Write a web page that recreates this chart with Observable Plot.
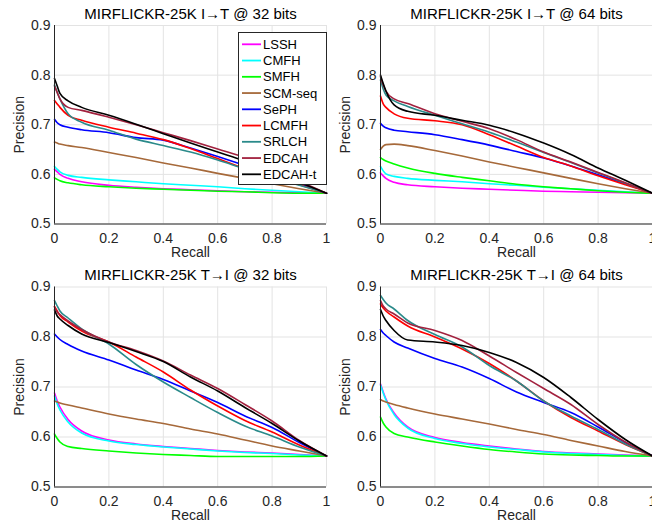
<!DOCTYPE html>
<html><head><meta charset="utf-8">
<script src="https://cdn.jsdelivr.net/npm/d3@7"></script>
<script src="https://cdn.jsdelivr.net/npm/@observablehq/plot@0.6"></script>
<style>
body{margin:0;background:#fff;}
#root{position:relative;width:652px;height:528px;overflow:hidden;background:#fff;font-family:"Liberation Sans",Arial,sans-serif;}
.panel{position:absolute;}
.panel svg{overflow:visible;}
#legend{position:absolute;left:238px;top:32px;}
</style></head><body><div id="root"></div>
<script>
const methods = ["LSSH","CMFH","SMFH","SCM-seq","SePH","LCMFH","SRLCH","EDCAH","EDCAH-t"];
const colors = ["#ff00ff","#00ffff","#00ff00","#a6693a","#0000ff","#ff0000","#2a8a8a","#a2213e","#000000"];
const recall = [0, 0.01, 0.02, 0.05, 0.1, 0.2, 0.3, 0.4, 0.5, 0.6, 0.7, 0.8, 0.9, 1];
const xTicks = [0, 0.2, 0.4, 0.6, 0.8, 1];
const yTicks = [0.5, 0.6, 0.7, 0.8, 0.9];
const titles = ["MIRFLICKR-25K I\u2192T @ 32 bits","MIRFLICKR-25K I\u2192T @ 64 bits","MIRFLICKR-25K T\u2192I @ 32 bits","MIRFLICKR-25K T\u2192I @ 64 bits"];

// precision values, one row per method (order of `methods`), one column per `recall` point
const prI2T32 = [
  [0.610,0.605,0.600,0.592,0.585,0.578,0.574,0.571,0.569,0.567,0.565,0.564,0.563,0.562],
  [0.616,0.610,0.605,0.598,0.594,0.589,0.585,0.581,0.578,0.575,0.571,0.568,0.565,0.562],
  [0.593,0.590,0.587,0.583,0.579,0.575,0.572,0.570,0.568,0.566,0.565,0.563,0.562,0.562],
  [0.665,0.663,0.661,0.658,0.654,0.644,0.634,0.623,0.613,0.602,0.592,0.581,0.571,0.562],
  [0.711,0.704,0.700,0.695,0.690,0.684,0.674,0.669,0.653,0.636,0.618,0.600,0.581,0.562],
  [0.749,0.742,0.735,0.719,0.709,0.695,0.683,0.670,0.652,0.632,0.612,0.596,0.579,0.562],
  [0.780,0.765,0.752,0.722,0.705,0.689,0.671,0.658,0.645,0.629,0.611,0.594,0.578,0.562],
  [0.778,0.765,0.752,0.735,0.729,0.715,0.700,0.684,0.668,0.651,0.634,0.610,0.586,0.562],
  [0.793,0.778,0.763,0.748,0.735,0.719,0.701,0.682,0.663,0.645,0.627,0.605,0.584,0.562]
];
const prI2T64 = [
  [0.603,0.597,0.592,0.584,0.579,0.575,0.572,0.570,0.568,0.566,0.565,0.564,0.563,0.562],
  [0.616,0.607,0.601,0.596,0.592,0.588,0.585,0.581,0.578,0.574,0.571,0.568,0.565,0.562],
  [0.634,0.630,0.627,0.621,0.613,0.602,0.594,0.587,0.580,0.575,0.571,0.567,0.564,0.562],
  [0.650,0.657,0.660,0.661,0.658,0.648,0.637,0.625,0.614,0.603,0.592,0.581,0.571,0.562],
  [0.703,0.697,0.694,0.689,0.686,0.680,0.670,0.659,0.646,0.633,0.617,0.599,0.581,0.562],
  [0.758,0.742,0.735,0.722,0.713,0.708,0.700,0.680,0.657,0.634,0.617,0.597,0.579,0.562],
  [0.790,0.772,0.760,0.748,0.737,0.719,0.702,0.685,0.665,0.644,0.624,0.603,0.582,0.562],
  [0.797,0.780,0.768,0.752,0.743,0.722,0.707,0.692,0.670,0.645,0.625,0.604,0.583,0.562],
  [0.800,0.783,0.768,0.740,0.727,0.719,0.709,0.699,0.683,0.663,0.640,0.613,0.588,0.562]
];
const prT2I32 = [
  [0.688,0.672,0.660,0.635,0.612,0.594,0.586,0.581,0.577,0.573,0.570,0.568,0.565,0.562],
  [0.682,0.666,0.654,0.630,0.608,0.592,0.585,0.580,0.576,0.572,0.569,0.567,0.564,0.562],
  [0.606,0.597,0.590,0.581,0.577,0.572,0.568,0.565,0.563,0.561,0.561,0.561,0.561,0.562],
  [0.672,0.670,0.668,0.664,0.658,0.646,0.636,0.627,0.616,0.606,0.594,0.582,0.572,0.562],
  [0.806,0.800,0.795,0.785,0.772,0.754,0.734,0.715,0.692,0.669,0.642,0.619,0.589,0.562],
  [0.861,0.852,0.843,0.830,0.812,0.790,0.760,0.730,0.694,0.662,0.633,0.610,0.584,0.562],
  [0.873,0.862,0.852,0.838,0.816,0.786,0.745,0.710,0.679,0.649,0.622,0.602,0.580,0.562],
  [0.860,0.850,0.845,0.832,0.815,0.790,0.773,0.752,0.724,0.697,0.665,0.632,0.593,0.562],
  [0.854,0.842,0.836,0.823,0.806,0.789,0.771,0.751,0.720,0.692,0.659,0.627,0.592,0.562]
];
const prT2I64 = [
  [0.706,0.690,0.676,0.648,0.620,0.599,0.589,0.582,0.576,0.571,0.568,0.566,0.564,0.562],
  [0.704,0.688,0.674,0.645,0.618,0.597,0.587,0.580,0.575,0.570,0.567,0.565,0.563,0.562],
  [0.640,0.628,0.620,0.607,0.600,0.590,0.582,0.575,0.570,0.566,0.564,0.563,0.562,0.562],
  [0.675,0.672,0.670,0.665,0.658,0.646,0.636,0.626,0.615,0.605,0.593,0.582,0.571,0.562],
  [0.815,0.808,0.803,0.790,0.778,0.757,0.740,0.717,0.690,0.669,0.649,0.620,0.589,0.562],
  [0.866,0.858,0.852,0.840,0.822,0.800,0.776,0.747,0.712,0.672,0.639,0.612,0.585,0.562],
  [0.883,0.875,0.868,0.856,0.833,0.805,0.780,0.743,0.712,0.672,0.642,0.615,0.586,0.562],
  [0.873,0.862,0.856,0.846,0.828,0.813,0.793,0.762,0.729,0.697,0.665,0.625,0.590,0.562],
  [0.855,0.842,0.833,0.813,0.794,0.790,0.783,0.769,0.749,0.719,0.679,0.635,0.595,0.562]
];

const FONT = "'Liberation Sans', Arial, sans-serif";
const fmtX = d => (d === 0 ? "0" : d === 1 ? "1" : d.toFixed(1));

function makePanel(title, rows, h, mt, mb, titleY) {
  const data = [];
  rows.forEach((vals, i) => vals.forEach((v, j) => data.push({method: methods[i], recall: recall[j], precision: v})));
  return Plot.plot({
    width: 326, height: h,
    marginLeft: 54, marginRight: 0, marginTop: mt, marginBottom: mb,
    style: {fontFamily: FONT, fontSize: "14px", background: "transparent", color: "#262626", overflow: "visible"},
    x: {domain: [0, 1]},
    y: {domain: [0.5, 0.9]},
    color: {domain: methods, range: colors},
    marks: [
      Plot.gridX(xTicks, {stroke: "#e3e3e3", strokeOpacity: 1}),
      Plot.gridY(yTicks, {stroke: "#e3e3e3", strokeOpacity: 1}),
      Plot.axisX(xTicks, {tickSize: 0, tickPadding: 9, tickFormat: fmtX, label: "Recall", labelAnchor: "center", labelOffset: 33, labelArrow: "none"}),
      Plot.axisY(yTicks, {tickSize: 0, tickPadding: 4, tickFormat: d => d.toFixed(1), label: "Precision", labelAnchor: "center", labelOffset: 40, labelArrow: "none"}),
      Plot.lineY(data, {x: "recall", y: "precision", z: "method", stroke: "method", strokeWidth: 1.6, curve: "monotone-x"}),
      Plot.ruleX([0], {stroke: "#262626", strokeWidth: 1}),
      Plot.ruleY([0.5], {stroke: "#262626", strokeWidth: 1}),
      Plot.text([title], {text: d => d, frameAnchor: "top", dy: titleY - mt, lineAnchor: "middle", fontSize: 15, fill: "#000"})
    ]
  });
}

const root = document.getElementById("root");
const panels = [
  {rows: prI2T32, left: 0,   top: 0,   h: 260, mt: 25,   mb: 36.5, ty: 14},
  {rows: prI2T64, left: 326, top: 0,   h: 260, mt: 25,   mb: 36.5, ty: 14},
  {rows: prT2I32, left: 0,   top: 260, h: 268, mt: 26.5, mb: 41.5, ty: 15},
  {rows: prT2I64, left: 326, top: 260, h: 268, mt: 26.5, mb: 41.5, ty: 15}
];
panels.forEach((p, i) => {
  const div = document.createElement("div");
  div.className = "panel";
  div.style.left = p.left + "px";
  div.style.top = p.top + "px";
  div.appendChild(makePanel(titles[i], p.rows, p.h, p.mt, p.mb, p.ty));
  root.appendChild(div);
});

// legend (top-left panel)
const lg = d3.select(root).append("svg").attr("id", "legend").attr("width", 89).attr("height", 154);
lg.append("rect").attr("x", 0.5).attr("y", 0.5).attr("width", 88).attr("height", 152)
  .attr("fill", "#fff").attr("stroke", "#262626").attr("stroke-width", 1);
const rowsG = lg.selectAll("g").data(methods).join("g")
  .attr("transform", (d, i) => `translate(0,${12.3 + i * 16.25})`);
rowsG.append("line").attr("x1", 4).attr("x2", 23).attr("y1", 0).attr("y2", 0)
  .attr("stroke", (d, i) => colors[i]).attr("stroke-width", 1.8);
rowsG.append("text").attr("x", 25).attr("y", 0).attr("dy", "0.35em")
  .attr("font-family", FONT).attr("font-size", 13).attr("fill", "#000").text(d => d);
</script></body></html>
